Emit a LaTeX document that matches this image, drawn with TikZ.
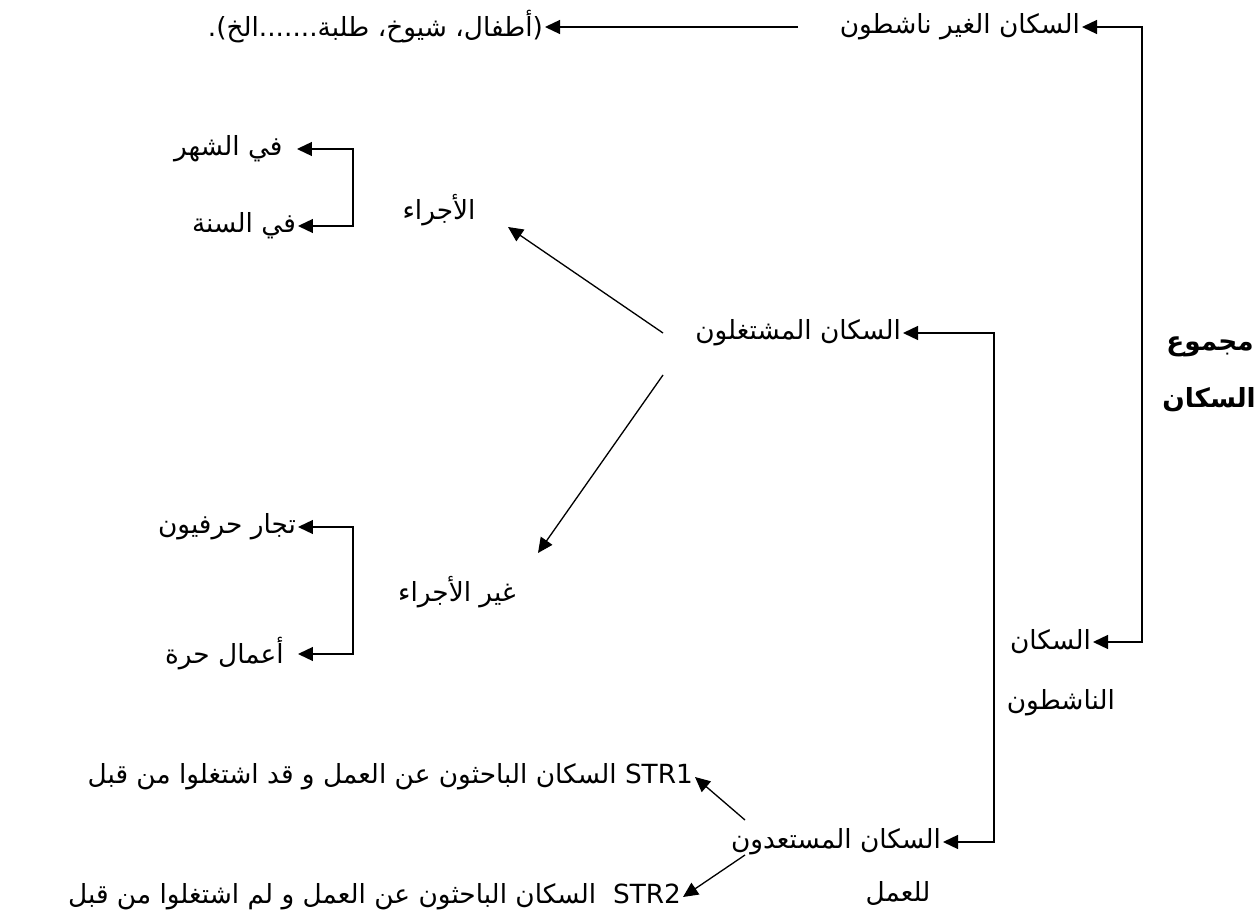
\documentclass[tikz,border=0pt]{standalone}
\usepackage{fontspec}
\setmainfont{DejaVu Sans}
\newfontfamily\arabicfont[Script=Arabic]{DejaVu Sans}
\TeXXeTstate=1
\usetikzlibrary{arrows.meta}
\newcommand{\artxt}[1]{{\arabicfont\beginR #1\endR}}

\begin{document}
\begin{tikzpicture}
[x=0.02cm, y=-0.02cm]
\tikzset{
	term/.style = {inner sep = 1pt, font = \fontsize{15}{18}\selectfont},
	termR/.style = {term, anchor = east},
	link/.style = {line width = 0.75pt, -{Triangle[length = 3mm, width = 2.8mm]}},
	bracket/.style = {line width = 0.75pt, {Triangle[length = 3mm, width = 2.8mm]}-{Triangle[length = 3mm, width = 2.8mm]}}
}
\useasboundingbox (0,0) rectangle (1255,915);

\node(inactive) [termR] at (1082,27) {\artxt{السكان الغير ناشطون}};
\node(examples) [termR] at (545,27) {\artxt{(أطفال، شيوخ، طلبة.......الخ).}};
\node(month) [termR, inner xsep = 8pt] at (297,149) {\artxt{في الشهر}};
\node(year) [termR] at (298,226) {\artxt{في السنة}};
\node(salaried) [term] at (439,210) {\artxt{الأجراء}};
\node(employed) [termR] at (903,333) {\artxt{السكان المشتغلون}};
\node(nonsalaried) [term] at (457,592) {\artxt{غير الأجراء}};
\node(traders) [termR] at (298,527) {\artxt{تجار حرفيون}};
\node(freelance) [termR, inner xsep = 8pt] at (298,654) {\artxt{أعمال حرة}};
\node(total1) [term, font = \fontsize{15}{18}\selectfont\bfseries] at (1210,347) {\artxt{مجموع}};
\node(total2) [term, font = \fontsize{15}{18}\selectfont\bfseries] at (1209,400) {\artxt{السكان}};
\node(active1) [termR] at (1093,642) {\artxt{السكان}};
\node(active2) [termR] at (1117,703) {\artxt{الناشطون}};
\node(seekers) [termR] at (943,842) {\artxt{السكان المستعدون}};
\node(seekers2) [term] at (898,893) {\artxt{للعمل}};
\node(str1) [termR] at (695,777) {\artxt{\beginL STR1\endL{} السكان الباحثون عن العمل و قد اشتغلوا من قبل}};
\node(str2) [termR] at (683,897) {\artxt{\beginL STR2\endL{}\ \ السكان الباحثون عن العمل و لم اشتغلوا من قبل}};

\coordinate (c0) at (1142,27);
\coordinate (c1) at (353,149);
\coordinate (c2) at (353,527);
\coordinate (c3) at (994,333);
\coordinate (t0) at (798,27);
\coordinate (t1) at (663,333);
\coordinate (h1) at (508,227);
\coordinate (t2) at (663,375);
\coordinate (h2) at (538,553);
\coordinate (t3) at (745,820);
\coordinate (t4) at (745,855);

\draw [bracket] (inactive.east) -- (c0) |- (active1.east);
\draw [link] (t0) -- (examples.east);
\draw [bracket] (month.east) -- (c1) |- (year.east);
\draw [bracket] (traders.east) -- (c2) |- (freelance.east);
\draw [bracket] (employed.east) -- (c3) |- (seekers.east);
\draw [link] (t1) -- (h1);
\draw [link] (t2) -- (h2);
\draw [link] (t3) -- (str1.east);
\draw [link] (t4) -- (str2.east);
\end{tikzpicture}
\end{document}
